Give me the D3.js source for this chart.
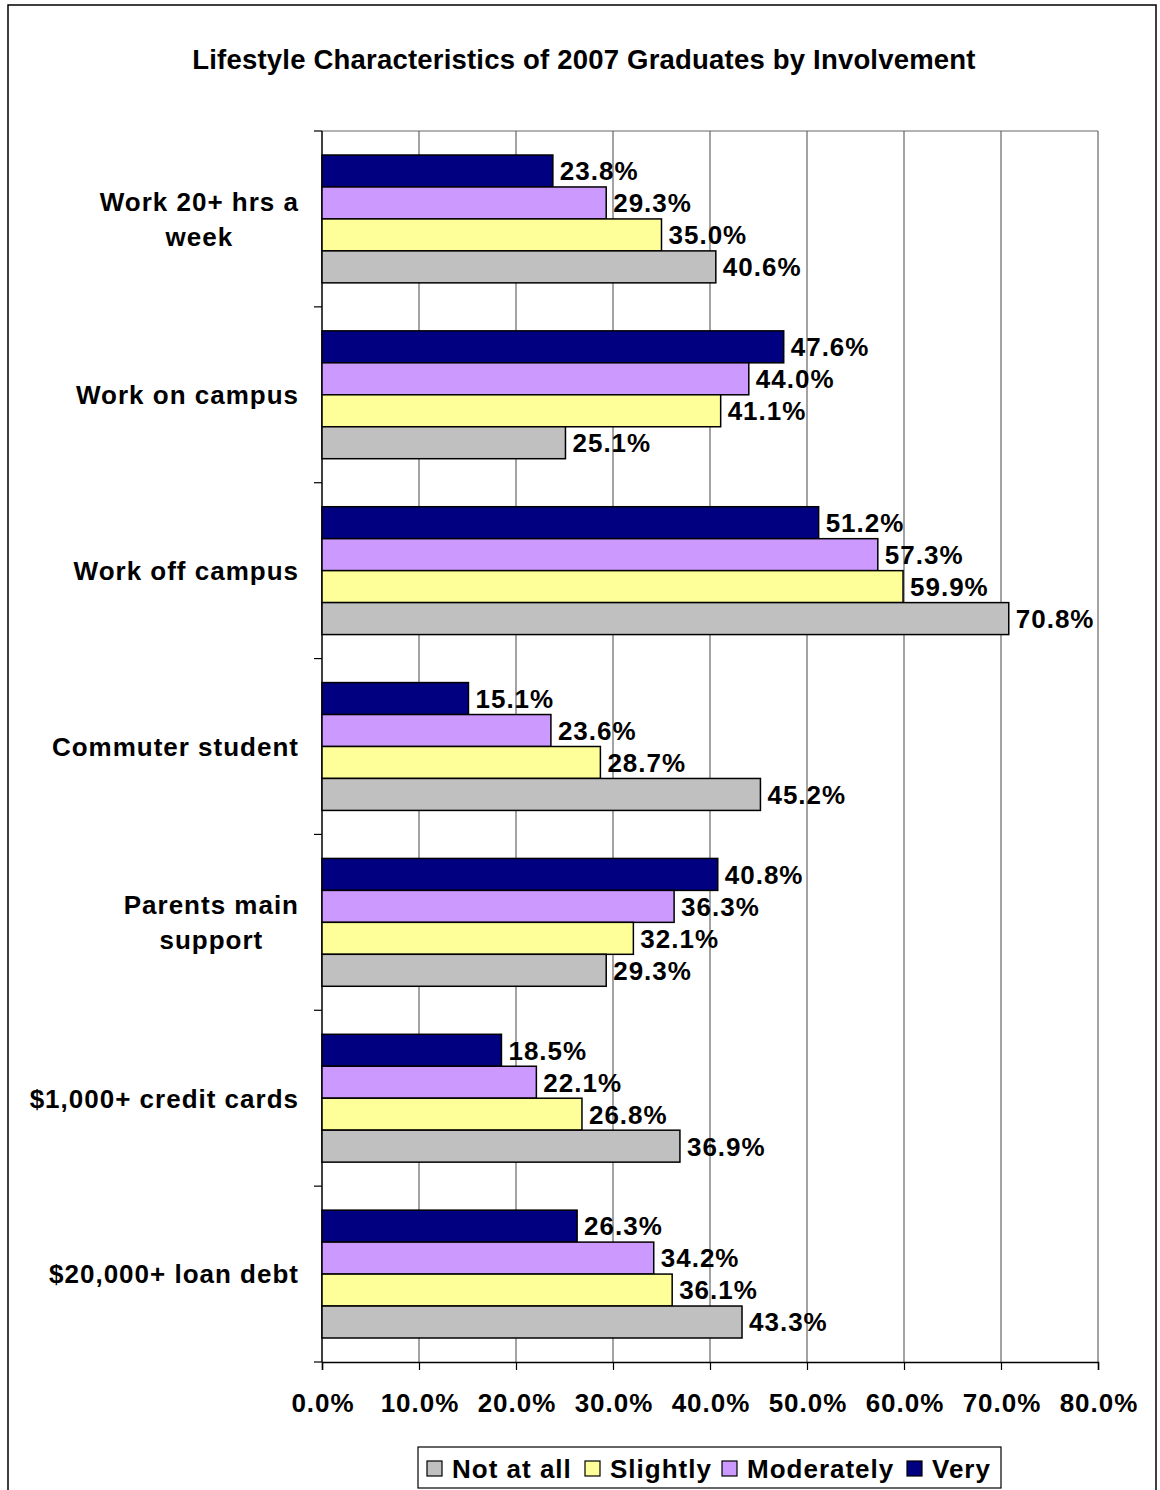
<!DOCTYPE html>
<html>
<head>
<meta charset="utf-8">
<script src="https://cdn.jsdelivr.net/npm/d3@7"></script>
<style>
  body { margin: 0; background: #fff; }
  text { font-family: "Liberation Sans", Arial, sans-serif; font-weight: bold; fill: #000; }
</style>
</head>
<body>
<div id="chart"></div>
<script>
// data
var categories = [["Work 20+ hrs a", "week"], ["Work on campus"], ["Work off campus"], ["Commuter student"],
                  ["Parents main", "support"], ["$1,000+ credit cards"], ["$20,000+ loan debt"]];
var seriesNames = ["Very", "Moderately", "Slightly", "Not at all"];   // top to bottom inside a group
var legendOrder = ["Not at all", "Slightly", "Moderately", "Very"];
var very       = [23.8, 47.6, 51.2, 15.1, 40.8, 18.5, 26.3];
var moderately = [29.3, 44.0, 57.3, 23.6, 36.3, 22.1, 34.2];
var slightly   = [35.0, 41.1, 59.9, 28.7, 32.1, 26.8, 36.1];
var notAtAll   = [40.6, 25.1, 70.8, 45.2, 29.3, 36.9, 43.3];
var xTicks = [0, 10, 20, 30, 40, 50, 60, 70, 80];
var title = "Lifestyle Characteristics of 2007 Graduates by Involvement";

var seriesVals = {"Very": very, "Moderately": moderately, "Slightly": slightly, "Not at all": notAtAll};
var colors = {"Very": "#000080", "Moderately": "#CC99FF", "Slightly": "#FFFF99", "Not at all": "#C0C0C0"};

var W = 1160, H = 1490;
var pLeft = 322, pRight = 1098, pTop = 131, pBottom = 1362;
var fs = "26px", ls = "1px";

var svg = d3.select("#chart").append("svg")
  .attr("width", W).attr("height", H);

// outer chart border
svg.append("rect").attr("x", 8).attr("y", 5).attr("width", 1148).attr("height", 1500)
  .attr("fill", "none").attr("stroke", "#000").attr("stroke-width", 1.5);

svg.append("text").attr("x", 584).attr("y", 69).attr("text-anchor", "middle")
  .style("font-size", "27.5px").style("letter-spacing", "0.2px").text(title);

var x = d3.scaleLinear().domain([0, 80]).range([pLeft, pRight]);
var y = d3.scaleBand().domain(d3.range(categories.length)).range([pTop, pBottom])
  .paddingInner(0.273).paddingOuter(0.1365);
var ySub = d3.scaleBand().domain(seriesNames).range([0, y.bandwidth()]);

// gridlines
svg.append("g").selectAll("line").data(xTicks.slice(1)).join("line")
  .attr("x1", d => x(d)).attr("x2", d => x(d)).attr("y1", pTop).attr("y2", pBottom)
  .attr("stroke", "#666").attr("stroke-width", 1.2);
svg.append("line").attr("x1", pLeft).attr("x2", pRight).attr("y1", pTop).attr("y2", pTop)
  .attr("stroke", "#666").attr("stroke-width", 1.2);

// x axis
var xAxis = svg.append("g").attr("transform", "translate(0," + pBottom + ")")
  .call(d3.axisBottom(x).tickValues(xTicks).tickSize(8).tickFormat(d => d.toFixed(1) + "%"));
xAxis.select(".domain").attr("stroke", "#000").attr("stroke-width", 1.5);
xAxis.selectAll(".tick line").attr("stroke", "#000").attr("stroke-width", 1.2);
xAxis.selectAll(".tick text").attr("y", 32).attr("dx", "0.5px").style("font-size", fs).style("letter-spacing", ls)
  .style("font-family", "'Liberation Sans', Arial, sans-serif").style("font-weight", "bold");

// y axis line + boundary ticks
svg.append("line").attr("x1", pLeft).attr("x2", pLeft).attr("y1", pTop).attr("y2", pBottom)
  .attr("stroke", "#000").attr("stroke-width", 1.5);
var step = y.step();
svg.append("g").selectAll("line").data(d3.range(categories.length + 1)).join("line")
  .attr("x1", pLeft - 8).attr("x2", pLeft)
  .attr("y1", d => pTop + d * step).attr("y2", d => pTop + d * step)
  .attr("stroke", "#000").attr("stroke-width", 1.2);

// bars
var groups = svg.append("g").selectAll("g").data(categories).join("g")
  .attr("transform", (d, i) => "translate(0," + y(i) + ")");

groups.each(function(cat, i) {
  var g = d3.select(this);
  seriesNames.forEach(function(s) {
    var v = seriesVals[s][i];
    g.append("rect")
      .attr("x", x(0)).attr("y", ySub(s))
      .attr("width", x(v) - x(0)).attr("height", ySub.bandwidth())
      .attr("fill", colors[s]).attr("stroke", "#000").attr("stroke-width", 1.5);
    g.append("text")
      .attr("x", x(v) + 7).attr("y", ySub(s) + ySub.bandwidth() / 2)
      .attr("dy", "0.36em").style("font-size", fs).style("letter-spacing", ls)
      .text(v.toFixed(1) + "%");
  });
});

// category labels (multi-line ones centred as a block, right edge at 298)
categories.forEach(function(lines, i) {
  var cy = y(i) + y.bandwidth() / 2;
  var t = svg.append("text").style("font-size", fs).style("letter-spacing", ls).attr("text-anchor", "middle");
  var lh = 35;
  lines.forEach(function(l, k) {
    t.append("tspan").attr("x", 0).attr("y", cy + (k - (lines.length - 1) / 2) * lh).attr("dy", "0.36em").text(l);
  });
  var bb = t.node().getBBox();
  t.attr("transform", "translate(" + (299 - bb.width / 2) + ",0)");
});

// legend
var lg = svg.append("g");
lg.append("rect").attr("x", 418).attr("y", 1447).attr("width", 583).attr("height", 41)
  .attr("fill", "#fff").attr("stroke", "#000").attr("stroke-width", 1.2);
var legX = [427, 585, 722, 907];
legendOrder.forEach(function(s, i) {
  lg.append("rect").attr("x", legX[i]).attr("y", 1461).attr("width", 15).attr("height", 15)
    .attr("fill", colors[s]).attr("stroke", "#000").attr("stroke-width", 1.2);
  lg.append("text").attr("x", legX[i] + 25).attr("y", 1478).style("font-size", fs).style("letter-spacing", ls).text(s);
});
</script>
</body>
</html>
